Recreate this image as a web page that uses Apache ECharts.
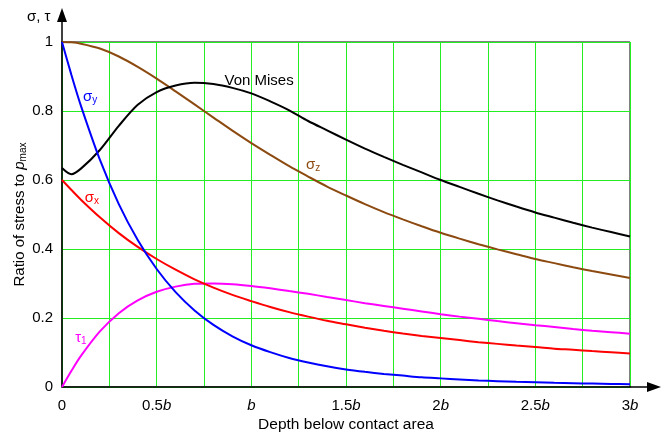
<!DOCTYPE html>
<html>
<head>
<meta charset="utf-8">
<script src="https://cdn.jsdelivr.net/npm/echarts@6/dist/echarts.min.js"></script>
<style>
  html, body { margin: 0; padding: 0; background: #fff; }
  #main { width: 665px; height: 434px; }
</style>
</head>
<body>
<div id="main"></div>
<script>
// depth below contact area, in units of b
const depth = [0, 0.05, 0.1, 0.2, 0.3, 0.4, 0.5, 0.6, 0.7, 0.8, 0.9, 1.0, 1.1, 1.2, 1.3, 1.4, 1.5,
  1.6, 1.7, 1.8, 1.9, 2.0, 2.1, 2.2, 2.3, 2.4, 2.5, 2.6, 2.7, 2.8, 2.9, 3.0];
const sigmaX = [0.600, 0.571, 0.543, 0.492, 0.446, 0.406, 0.371, 0.340, 0.312, 0.288, 0.267, 0.249,
  0.232, 0.217, 0.204, 0.192, 0.182, 0.172, 0.163, 0.155, 0.148, 0.142, 0.136, 0.130, 0.125, 0.120,
  0.116, 0.111, 0.108, 0.104, 0.101, 0.097];
const sigmaY = [1.000, 0.904, 0.815, 0.659, 0.530, 0.426, 0.342, 0.275, 0.222, 0.180, 0.147, 0.121,
  0.101, 0.084, 0.071, 0.060, 0.051, 0.044, 0.038, 0.033, 0.028, 0.025, 0.022, 0.019, 0.017, 0.015,
  0.014, 0.012, 0.011, 0.010, 0.009, 0.008];
const sigmaZ = [1.000, 0.999, 0.995, 0.981, 0.958, 0.928, 0.894, 0.857, 0.819, 0.781, 0.743, 0.707,
  0.673, 0.640, 0.610, 0.581, 0.555, 0.530, 0.507, 0.486, 0.466, 0.447, 0.430, 0.414, 0.399, 0.385,
  0.371, 0.359, 0.347, 0.336, 0.326, 0.316];
const tau1 = [0.000, 0.047, 0.090, 0.161, 0.214, 0.251, 0.276, 0.291, 0.299, 0.300, 0.298, 0.293,
  0.286, 0.278, 0.270, 0.261, 0.252, 0.243, 0.235, 0.227, 0.219, 0.211, 0.204, 0.198, 0.191, 0.185,
  0.179, 0.174, 0.168, 0.163, 0.159, 0.154];
const vonMises = [0.635, 0.617, 0.633, 0.687, 0.757, 0.818, 0.855, 0.874, 0.882, 0.878, 0.867, 0.851,
  0.828, 0.802, 0.771, 0.744, 0.717, 0.691, 0.667, 0.644, 0.622, 0.600, 0.580, 0.560, 0.541, 0.523,
  0.506, 0.491, 0.476, 0.462, 0.449, 0.436];

// curve captions: [text, depth, value]
const captions = {
  sx: ['{g|σ}{s|x}', 0.158, 0.548],
  sy: ['{g|σ}{s|y}', 0.148, 0.841],
  sz: ['{g|σ}{s|z}', 1.326, 0.643],
  vm: ['Von Mises', 1.041, 0.888],
  t1: ['{g|τ}{s|1}', 0.100, 0.142]
};

const FONT = '"Liberation Sans", Arial, sans-serif';
const FS = 15;
const GRID_GREEN = '#22ee22';

function pairs(vals) {
  return depth.map((d, i) => [d, vals[i]]);
}

function makeSeries(name, vals, color, cap) {
  return {
    name: name,
    type: 'line',
    data: pairs(vals),
    smooth: 0.3,
    symbol: 'none',
    lineStyle: { color: color, width: 2 },
    z: 3,
    markPoint: {
      symbol: 'circle',
      symbolSize: 0,
      silent: true,
      data: [{ coord: [cap[1], cap[2]] }],
      label: {
        show: true,
        position: 'inside',
        formatter: cap[0],
        color: color,
        fontFamily: FONT,
        fontSize: FS,
        rich: {
          g: { color: color, fontFamily: FONT, fontSize: FS },
          s: { color: color, fontFamily: FONT, fontSize: 10, verticalAlign: 'bottom', padding: [7, 0, 0, 0] }
        }
      }
    }
  };
}

function xLabel(v) {
  const r = Math.round(v * 100) / 100;
  if (r === 0) return '0';
  if (Math.abs(r * 2 - Math.round(r * 2)) > 1e-6) return '';
  if (r === 1) return '{i|b}';
  return r + '{i|b}';
}

const chart = echarts.init(document.getElementById('main'), null, { renderer: 'canvas' });

chart.setOption({
  animation: false,
  backgroundColor: '#fff',
  textStyle: { fontFamily: FONT },
  grid: {
    left: 62, right: 35, top: 42, bottom: 47,
    containLabel: false,
    outerBoundsMode: 'none',
    show: true, borderColor: '#000', borderWidth: 1, backgroundColor: 'transparent'
  },
  xAxis: {
    type: 'value',
    min: 0, max: 3, interval: 0.25,
    name: 'Depth below contact area',
    nameLocation: 'middle',
    nameGap: 30,
    nameMoveOverlap: false,
    nameTextStyle: { color: '#000', fontSize: 15.5, fontFamily: FONT },
    axisLine: { lineStyle: { color: '#000', width: 1.5 } },
    axisTick: { show: false },
    axisLabel: {
      color: '#000', fontSize: FS, fontFamily: FONT, margin: 11,
      formatter: xLabel,
      rich: { i: { fontStyle: 'italic', fontSize: FS, fontFamily: FONT, color: '#000' } }
    },
    splitLine: { show: true, lineStyle: { color: GRID_GREEN, width: 1 } }
  },
  yAxis: {
    type: 'value',
    min: 0, max: 1, interval: 0.2,
    name: 'Ratio of stress to {i|p}{s|max}',
    nameLocation: 'middle',
    nameGap: 34,
    nameMoveOverlap: false,
    nameTextStyle: {
      color: '#000', fontSize: FS, fontFamily: FONT,
      rich: {
        i: { fontStyle: 'italic', fontSize: FS, fontFamily: FONT, color: '#000' },
        s: { fontSize: 10, fontFamily: FONT, color: '#000', verticalAlign: 'bottom', padding: [7, 0, 0, 0] }
      }
    },
    axisLine: { lineStyle: { color: '#000', width: 1.5 } },
    axisTick: { show: false },
    axisLabel: {
      color: '#000', fontSize: FS, fontFamily: FONT, margin: 9,
      formatter: v => String(Math.round(v * 10) / 10)
    },
    splitLine: { show: true, lineStyle: { color: GRID_GREEN, width: 1 } }
  },
  series: [
    makeSeries('σz', sigmaZ, '#8c4a10', captions.sz),
    makeSeries('Von Mises', vonMises, '#000000', captions.vm),
    makeSeries('τ1', tau1, '#ff00ff', captions.t1),
    makeSeries('σx', sigmaX, '#ff0000', captions.sx),
    makeSeries('σy', sigmaY, '#0000ff', captions.sy)
  ]
});

// axis arrows running past the plot area
const o = chart.convertToPixel({ gridIndex: 0 }, [0, 0]);
const e = chart.convertToPixel({ gridIndex: 0 }, [3, 1]);
chart.setOption({
  graphic: [
    { type: 'line', shape: { x1: o[0], y1: e[1], x2: o[0], y2: 21 }, style: { stroke: '#000', lineWidth: 1.5 } },
    { type: 'polygon', shape: { points: [[o[0], 8], [o[0] - 5, 22], [o[0] + 5, 22]] }, style: { fill: '#000' } },
    { type: 'line', shape: { x1: e[0], y1: o[1], x2: 648, y2: o[1] }, style: { stroke: '#000', lineWidth: 1.5 } },
    { type: 'polygon', shape: { points: [[661, o[1]], [647, o[1] - 5], [647, o[1] + 5]] }, style: { fill: '#000' } },
    { type: 'text', left: 27, top: 9, style: { text: 'σ, τ', fill: '#000', font: FS + 'px ' + FONT } }
  ]
});
</script>
</body>
</html>
